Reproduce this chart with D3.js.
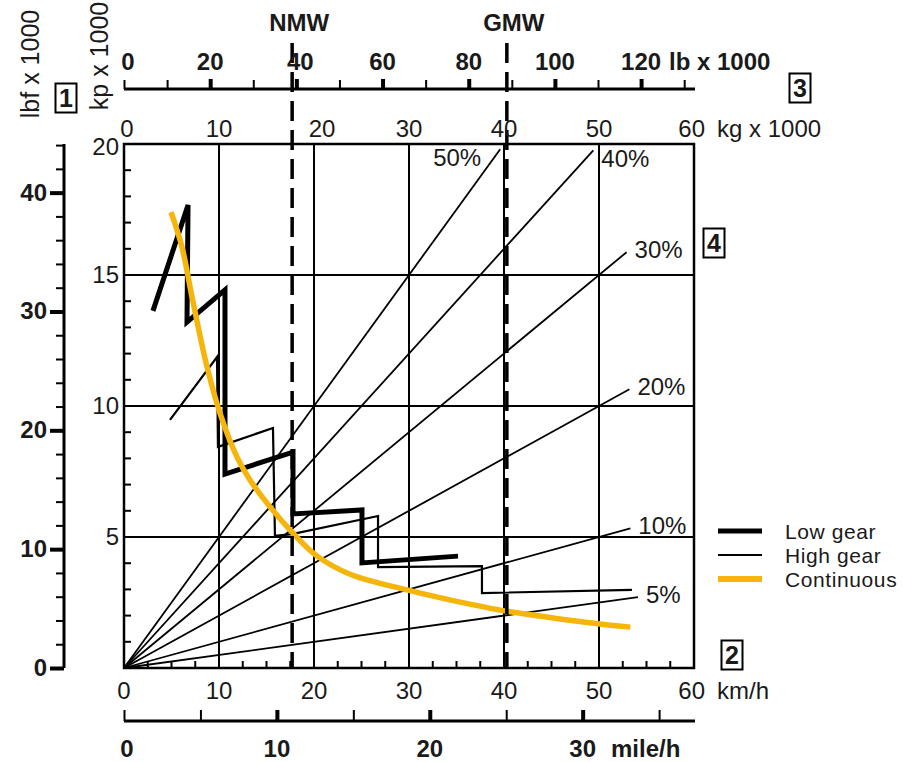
<!DOCTYPE html>
<html>
<head>
<meta charset="utf-8">
<script src="https://cdn.jsdelivr.net/npm/d3@7"></script>
<style>
  body { margin: 0; background: #fff; }
  text { font-family: "Liberation Sans", Arial, sans-serif; fill: #1a1a1a; }
  .num { font-size: 24px; }
  .bold { font-weight: 700; }
  .axis path, .axis line { stroke: #000; }
</style>
</head>
<body>
<svg width="911" height="762"></svg>
<script>
// ---- data ----
// x is speed (km/h) on the bottom, weight (kg x 1000) on top; y is tractive force (kp x 1000)
const kmhTicks = [0, 10, 20, 30, 40, 50, 60];
const kgTicks = [0, 10, 20, 30, 40, 50, 60];
const kpTicks = [5, 10, 15, 20];
const lbfTicks = [0, 10, 20, 30, 40];
const lbTicks = [0, 20, 40, 60, 80, 100, 120];
const mphTicks = [0, 10, 20, 30];

// gradient lines: force = grade * weight, drawn out to these weights
const grades = [50, 40, 30, 20, 10, 5];
const gradeEnds = [39.6, 49.4, 52.9, 53.2, 53.3, 54.1];

// weight markers (kg x 1000)
const markerNames = ["NMW", "GMW"];
const markerKg = [17.7, 40.3];

// [km/h, kp x 1000]
const lowGear = [[3.05, 13.63], [6.74, 17.67], [6.63, 13.2], [10.63, 14.43], [10.63, 7.4],
  [17.79, 8.24], [17.79, 5.88], [25.05, 6.03], [25.05, 4.01], [35.16, 4.27]];
const highGear = [[4.84, 9.47], [9.79, 11.87], [9.89, 8.44], [15.68, 9.16], [15.89, 5.04],
  [17.68, 5.11], [26.74, 5.8], [26.74, 3.85], [37.68, 3.89], [37.68, 2.86], [53.47, 2.98]];
const continuous = [[4.95, 17.4], [6.1, 16.07], [7.16, 14.16], [8.74, 11.49], [10.1, 9.73],
  [11.9, 8.05], [13.26, 7.18], [15.37, 6.15], [17.68, 5.19], [20.3, 4.28], [23.8, 3.58],
  [29.8, 2.98], [34.3, 2.6], [39.6, 2.21], [45, 1.92], [50.1, 1.68], [53.3, 1.56]];

const legendNames = ["Low gear", "High gear", "Continuous"];

// unit conversions
const KP_TO_LBF = 2.20462, KG_TO_LB = 2.20462, KMH_PER_MPH = 1.609344;

const svg = d3.select("svg");
const pLeft = 124, pRight = 694, pTop = 144, pBottom = 668;
const yellow = "#f5b50a";

const x = d3.scaleLinear().domain([0, 60]).range([pLeft, pRight]);
const y = d3.scaleLinear().domain([0, 20]).range([pBottom, pTop]);
const yLbf = d3.scaleLinear().domain([0, 20 * KP_TO_LBF]).range([pBottom, pTop]);
const xLb = d3.scaleLinear().domain([0, 60 * KG_TO_LB]).range([pLeft, pRight]);
const xMph = d3.scaleLinear().domain([0, 60 / KMH_PER_MPH]).range([pLeft, pRight]);

// grid
svg.append("g").selectAll("line").data(kmhTicks.slice(1, -1)).join("line")
  .attr("x1", d => x(d)).attr("x2", d => x(d)).attr("y1", pTop).attr("y2", pBottom)
  .attr("stroke", "#000").attr("stroke-width", 2);
svg.append("g").selectAll("line").data(kpTicks.slice(0, -1)).join("line")
  .attr("x1", pLeft).attr("x2", pRight).attr("y1", d => y(d)).attr("y2", d => y(d))
  .attr("stroke", "#000").attr("stroke-width", 2);

// inner minor ticks of the frame
svg.append("g").selectAll("line").data(d3.range(1, 20)).join("line")
  .attr("x1", pLeft).attr("x2", pLeft + 7).attr("y1", d => y(d)).attr("y2", d => y(d))
  .attr("stroke", "#000").attr("stroke-width", 2);
svg.append("g").selectAll("line").data(d3.range(2.5, 60, 2.5)).join("line")
  .attr("x1", d => x(d)).attr("x2", d => x(d)).attr("y1", pBottom).attr("y2", pBottom - 7)
  .attr("stroke", "#000").attr("stroke-width", 2);

// gradient fan
const fan = svg.append("g");
fan.selectAll("line").data(grades).join("line")
  .attr("x1", x(0)).attr("y1", y(0))
  .attr("x2", (d, i) => x(gradeEnds[i]))
  .attr("y2", (d, i) => y(gradeEnds[i] * d / 100))
  .attr("stroke", "#000").attr("stroke-width", 1.8);
fan.selectAll("text").data(grades).join("text")
  .attr("class", "num")
  .attr("x", (d, i) => x(gradeEnds[i]) + (i === 0 ? -19 : 8))
  .attr("y", (d, i) => y(gradeEnds[i] * d / 100) + (i < 2 ? 17 : 6))
  .attr("text-anchor", (d, i) => i === 0 ? "end" : "start")
  .text(d => d + "%");

// frame
svg.append("rect").attr("x", pLeft).attr("y", pTop)
  .attr("width", pRight - pLeft).attr("height", pBottom - pTop)
  .attr("fill", "none").attr("stroke", "#000").attr("stroke-width", 2.5);

// gear curves
const line = d3.line().x(d => x(d[0])).y(d => y(d[1]));
svg.append("path").datum(highGear).attr("d", line)
  .attr("fill", "none").attr("stroke", "#000").attr("stroke-width", 2.2)
  .attr("stroke-linejoin", "miter");
svg.append("path").datum(lowGear).attr("d", line)
  .attr("fill", "none").attr("stroke", "#000").attr("stroke-width", 5)
  .attr("stroke-linejoin", "miter");
svg.append("path").datum(continuous).attr("d", line.curve(d3.curveCatmullRom))
  .attr("fill", "none").attr("stroke", yellow).attr("stroke-width", 5.5)
  .attr("stroke-linecap", "butt");

// NMW / GMW dashed markers
const mk = svg.append("g");
mk.selectAll("line").data(markerKg).join("line")
  .attr("x1", d => x(d)).attr("x2", d => x(d)).attr("y1", 43).attr("y2", pBottom)
  .attr("stroke", "#000").attr("stroke-width", 3.5).attr("stroke-dasharray", "20,9");
mk.selectAll("text").data(markerNames).join("text")
  .attr("class", "num bold")
  .attr("x", (d, i) => x(markerKg[i]) + 7).attr("y", 31)
  .attr("text-anchor", "middle").text(d => d);

// bottom km/h labels
svg.append("g").selectAll("text").data(kmhTicks).join("text")
  .attr("class", "num").attr("x", d => x(d)).attr("y", 699)
  .attr("text-anchor", d => d === 60 ? "end" : "middle")
  .attr("dx", d => d === 60 ? 11 : 0)
  .text(d => d);
svg.append("text").attr("class", "num").attr("x", 717).attr("y", 699).text("km/h");

// top kg labels
svg.append("g").selectAll("text").data(kgTicks).join("text")
  .attr("class", "num").attr("x", d => x(d)).attr("y", 137)
  .attr("text-anchor", d => d === 60 ? "end" : "middle")
  .attr("dx", d => d === 0 ? 3 : d === 20 ? 8 : d === 60 ? 11 : 0)
  .text(d => d);
svg.append("text").attr("class", "num").attr("x", 717).attr("y", 137).text("kg x 1000");

// kp labels
svg.append("g").selectAll("text").data(kpTicks).join("text")
  .attr("class", "num").attr("x", 119).attr("y", d => y(d) + 8 + (d === 20 ? 3 : 0))
  .attr("text-anchor", "end").text(d => d);

// helper for the outer ruler axes with minor and major ticks
function ruler(g, scale, orient, minor, major, minorLen, majorLen) {
  const ax = orient === "left" ? d3.axisLeft(scale) : d3.axisTop(scale);
  g.append("g").attr("class", "axis")
    .call(ax.tickValues(minor).tickSizeInner(minorLen).tickSizeOuter(0).tickFormat(""))
    .call(s => s.selectAll("line").attr("stroke-width", 2))
    .call(s => s.select(".domain").attr("stroke-width", 3));
  g.append("g").attr("class", "axis")
    .call(ax.tickValues(major).tickSizeInner(majorLen).tickSizeOuter(0).tickFormat(""))
    .call(s => s.selectAll("line").attr("stroke-width", 4))
    .call(s => s.select(".domain").remove());
}

// lbf axis on the far left
const gL = svg.append("g").attr("transform", "translate(64,0)");
ruler(gL, yLbf, "left", d3.range(0, 45, 2), lbfTicks, 8, 14);
gL.selectAll(".axis path.domain").attr("d", `M0,${pBottom}V${pTop}`);
svg.append("g").selectAll("text").data(lbfTicks).join("text")
  .attr("class", "num bold").attr("x", 47).attr("y", d => yLbf(d) + 8)
  .attr("text-anchor", "end").text(d => d);

// lb axis on top
const gT = svg.append("g").attr("transform", "translate(0,89)");
ruler(gT, xLb, "top", d3.range(0, 131, 10), lbTicks.filter(d => d > 0), 9, 10);
gT.selectAll(".axis path.domain").attr("d", `M${pLeft},0H${pRight + 1}`);
svg.append("g").selectAll("text").data(lbTicks).join("text")
  .attr("class", "num bold").attr("x", d => xLb(d)).attr("y", 70)
  .attr("text-anchor", "middle")
  .attr("dx", d => d === 0 ? 4 : d === 40 ? 4 : 0)
  .text(d => d);
svg.append("text").attr("class", "num bold").attr("x", 669).attr("y", 70).text("lb x 1000");

// mile/h axis at the bottom
const gB = svg.append("g").attr("transform", "translate(0,721)");
ruler(gB, xMph, "top", d3.range(0, 36, 5), mphTicks.filter(d => d > 0), 11, 11);
gB.selectAll(".axis path.domain").attr("d", `M${pLeft},0H${pRight + 1}`);
svg.append("g").selectAll("text").data(mphTicks).join("text")
  .attr("class", "num bold").attr("x", d => xMph(d)).attr("y", 757)
  .attr("text-anchor", "middle").attr("dx", d => d === 0 ? 3 : 0)
  .text(d => d);
svg.append("text").attr("class", "num bold").attr("x", 611).attr("y", 757).text("mile/h");

// rotated unit labels
svg.append("text").attr("class", "num").style("font-size", "25px")
  .attr("transform", "translate(39,64) rotate(-90)").attr("text-anchor", "middle").text("lbf x 1000");
svg.append("text").attr("class", "num").style("font-size", "25px")
  .attr("transform", "translate(108,56) rotate(-90)").attr("text-anchor", "middle").text("kp x 1000");

// boxed numbers
const boxes = [["1", 66, 98], ["3", 800, 88], ["4", 714, 243], ["2", 732, 655]];
const bx = svg.append("g").selectAll("g").data(boxes).join("g")
  .attr("transform", d => `translate(${d[1]},${d[2]})`);
bx.append("rect").attr("x", -10.5).attr("y", -14.5).attr("width", 21).attr("height", 29)
  .attr("fill", "#fff").attr("stroke", "#000").attr("stroke-width", 2);
bx.append("text").attr("class", "bold").attr("text-anchor", "middle").attr("y", 9)
  .style("font-size", "25px").text(d => d[0]);

// legend
const lg = svg.append("g").attr("transform", "translate(718,531)");
const lgStyle = [["#000", 5], ["#000", 2.2], [yellow, 6]];
lg.selectAll("line").data(legendNames).join("line")
  .attr("x1", 0).attr("x2", 44).attr("y1", (d, i) => i * 24).attr("y2", (d, i) => i * 24)
  .attr("stroke", (d, i) => lgStyle[i][0]).attr("stroke-width", (d, i) => lgStyle[i][1]);
lg.selectAll("text").data(legendNames).join("text")
  .attr("x", 67).attr("y", (d, i) => i * 24 + 8)
  .style("font-size", "21px").style("letter-spacing", "0.6px")
  .text(d => d);
</script>
</body>
</html>
